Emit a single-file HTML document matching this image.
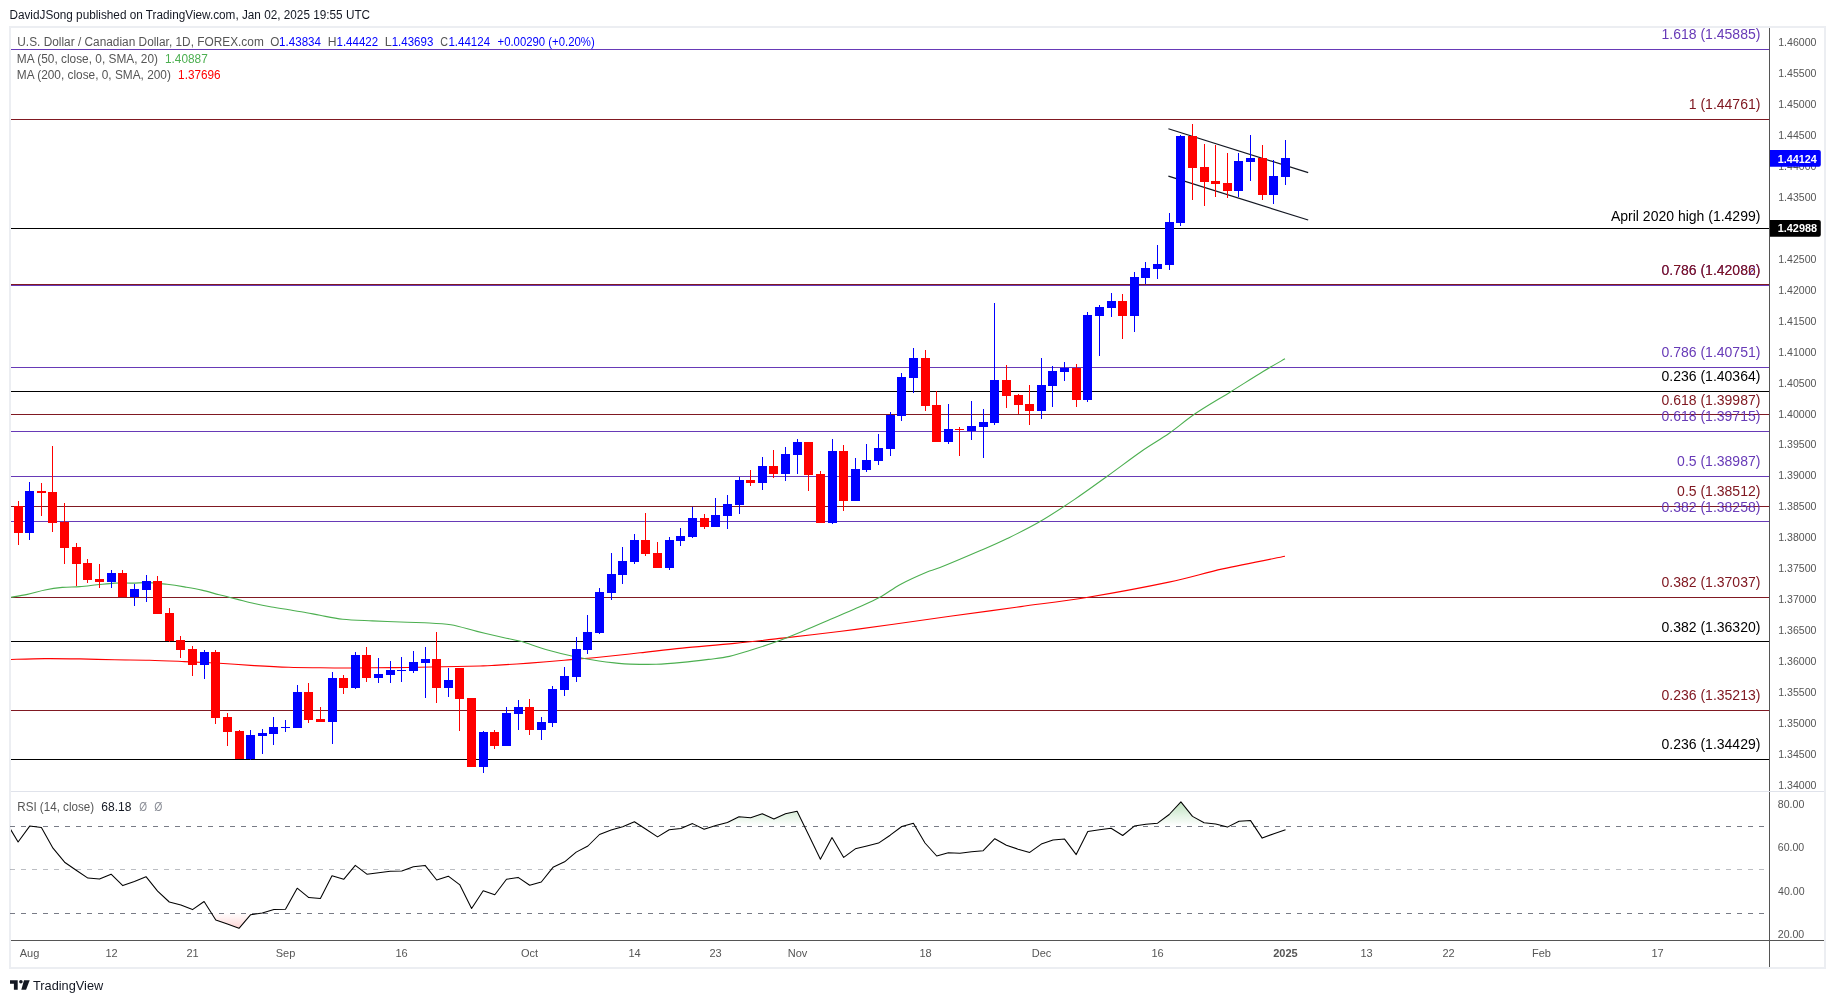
<!DOCTYPE html>
<html><head><meta charset="utf-8"><title>USDCAD chart</title><style>
html,body{margin:0;padding:0;background:#fff;}
body{width:1835px;height:1003px;overflow:hidden;position:relative;}
svg{position:absolute;left:0;top:0;display:block;will-change:transform;}
text{font-family:"Liberation Sans", Arial, sans-serif;}
</style></head><body>
<svg width="1835" height="1003" viewBox="0 0 1835 1003">
<defs>
<clipPath id="cpMain"><rect x="11" y="28" width="1758" height="763"/></clipPath>
<clipPath id="cpRsi"><rect x="11" y="792" width="1758" height="148"/></clipPath>
<linearGradient id="gOB" gradientUnits="userSpaceOnUse" x1="0" y1="825.80" x2="0" y2="760.55"><stop offset="0" stop-color="#4caf50" stop-opacity="0"/><stop offset="1" stop-color="#4caf50" stop-opacity="1"/></linearGradient>
<linearGradient id="gOS" gradientUnits="userSpaceOnUse" x1="0" y1="912.80" x2="0" y2="978.05"><stop offset="0" stop-color="#ff5252" stop-opacity="0"/><stop offset="1" stop-color="#ff5252" stop-opacity="1"/></linearGradient>
<clipPath id="cpOB"><rect x="11" y="792" width="1758" height="33.80"/></clipPath>
<clipPath id="cpOS"><rect x="11" y="912.80" width="1758" height="27.20"/></clipPath>
</defs>
<text x="9.44" y="19.10" font-size="12.50" fill="#131722" textLength="360.62" lengthAdjust="spacingAndGlyphs">DavidJSong published on TradingView.com, Jan 02, 2025 19:55 UTC</text>
<rect x="9" y="26" width="1817" height="2" fill="#eceef2"/>
<rect x="9" y="967" width="1817" height="2" fill="#eceef2"/>
<rect x="9" y="26" width="2" height="943" fill="#eceef2"/>
<rect x="1824" y="26" width="2" height="943" fill="#eceef2"/>
<g clip-path="url(#cpMain)" shape-rendering="crispEdges">
<rect x="11" y="49" width="1758" height="1" fill="#673ab7"/>
<rect x="11" y="285" width="1758" height="1" fill="#673ab7"/>
<rect x="11" y="367" width="1758" height="1" fill="#673ab7"/>
<rect x="11" y="431" width="1758" height="1" fill="#673ab7"/>
<rect x="11" y="476" width="1758" height="1" fill="#673ab7"/>
<rect x="11" y="521" width="1758" height="1" fill="#673ab7"/>
<rect x="11" y="119" width="1758" height="1" fill="#801922"/>
<rect x="11" y="284" width="1758" height="1" fill="#801922"/>
<rect x="11" y="414" width="1758" height="1" fill="#801922"/>
<rect x="11" y="506" width="1758" height="1" fill="#801922"/>
<rect x="11" y="597" width="1758" height="1" fill="#801922"/>
<rect x="11" y="710" width="1758" height="1" fill="#801922"/>
<rect x="11" y="228" width="1758" height="1" fill="#000000"/>
<rect x="11" y="391" width="1758" height="1" fill="#000000"/>
<rect x="11" y="641" width="1758" height="1" fill="#000000"/>
<rect x="11" y="759" width="1758" height="1" fill="#000000"/>
</g>
<g clip-path="url(#cpMain)" fill="none" stroke-linejoin="round">
<path d="M10.00,659.50 C15.82,659.35 33.27,658.70 44.90,658.60 C56.53,658.50 68.18,658.70 79.80,658.90 C91.42,659.10 102.98,659.58 114.60,659.80 C126.22,660.02 137.87,659.90 149.50,660.20 C161.13,660.50 172.77,661.08 184.40,661.60 C196.03,662.12 207.67,662.63 219.30,663.30 C230.93,663.97 242.58,664.93 254.20,665.60 C265.82,666.27 278.03,666.93 289.00,667.30 C299.97,667.67 310.50,667.68 320.00,667.80 C329.50,667.92 337.28,668.02 346.00,668.00 C354.72,667.98 362.10,667.78 372.30,667.70 C382.50,667.62 395.58,667.65 407.20,667.50 C418.82,667.35 429.87,667.05 442.00,666.80 C454.13,666.55 471.27,666.23 480.00,666.00 C488.73,665.77 486.18,665.88 494.40,665.40 C502.62,664.92 517.67,663.97 529.30,663.10 C540.93,662.23 552.58,661.18 564.20,660.20 C575.82,659.22 586.37,658.43 599.00,657.20 C611.63,655.97 626.12,654.32 640.00,652.80 C653.88,651.28 666.53,649.67 682.30,648.10 C698.07,646.53 717.15,645.15 734.60,643.40 C752.05,641.65 769.55,639.58 787.00,637.60 C804.45,635.62 821.87,633.68 839.30,631.50 C856.73,629.32 873.15,627.03 891.60,624.50 C910.05,621.97 928.47,619.28 950.00,616.30 C971.53,613.32 997.78,609.78 1020.80,606.60 C1043.82,603.42 1063.42,601.28 1088.10,597.20 C1112.78,593.12 1146.47,586.82 1168.90,582.10 C1191.33,577.38 1203.35,573.20 1222.70,568.90 C1242.05,564.60 1274.62,558.40 1285.00,556.30" stroke="#ff0000" stroke-width="1.1"/>
<path d="M10.00,597.40 C12.90,596.90 21.58,595.63 27.40,594.40 C33.22,593.17 39.08,591.17 44.90,590.00 C50.72,588.83 56.48,587.97 62.30,587.40 C68.12,586.83 73.98,587.03 79.80,586.60 C85.62,586.17 91.40,585.38 97.20,584.80 C103.00,584.22 108.78,583.38 114.60,583.10 C120.42,582.82 126.28,583.18 132.10,583.10 C137.92,583.02 143.68,582.40 149.50,582.60 C155.32,582.80 161.18,583.58 167.00,584.30 C172.82,585.02 178.60,585.93 184.40,586.90 C190.20,587.87 195.98,588.78 201.80,590.10 C207.62,591.42 213.48,593.30 219.30,594.80 C225.12,596.30 230.88,597.65 236.70,599.10 C242.52,600.55 248.38,602.18 254.20,603.50 C260.02,604.82 265.80,605.95 271.60,607.00 C277.40,608.05 283.18,608.85 289.00,609.80 C294.82,610.75 301.33,611.78 306.50,612.70 C311.67,613.62 313.97,614.22 320.00,615.30 C326.03,616.38 333.98,618.27 342.70,619.20 C351.42,620.13 361.55,620.38 372.30,620.90 C383.05,621.42 398.48,622.00 407.20,622.30 C415.92,622.60 417.33,622.28 424.60,622.70 C431.87,623.12 442.07,623.35 450.80,624.80 C459.53,626.25 468.28,629.28 477.00,631.40 C485.72,633.52 495.83,635.85 503.10,637.50 C510.37,639.15 513.33,639.27 520.60,641.30 C527.87,643.33 537.98,647.22 546.70,649.70 C555.42,652.18 564.18,654.32 572.90,656.20 C581.62,658.08 591.73,659.85 599.00,661.00 C606.27,662.15 611.33,662.58 616.50,663.10 C621.67,663.62 623.38,663.90 630.00,664.10 C636.62,664.30 647.48,664.58 656.20,664.30 C664.92,664.02 673.58,663.22 682.30,662.40 C691.02,661.58 700.65,660.40 708.50,659.40 C716.35,658.40 722.13,658.00 729.40,656.40 C736.67,654.80 743.97,652.35 752.10,649.80 C760.23,647.25 769.48,644.30 778.20,641.10 C786.92,637.90 795.67,634.23 804.40,630.60 C813.13,626.97 821.88,623.07 830.60,619.30 C839.32,615.53 848.57,611.63 856.70,608.00 C864.83,604.37 872.13,601.43 879.40,597.50 C886.67,593.57 892.45,588.62 900.30,584.40 C908.15,580.18 919.88,575.00 926.50,572.20 C933.12,569.40 931.02,571.20 940.00,567.60 C948.98,564.00 969.18,555.45 980.40,550.60 C991.62,545.75 997.43,543.30 1007.30,538.50 C1017.17,533.70 1028.38,528.32 1039.60,521.80 C1050.82,515.28 1063.38,506.95 1074.60,499.40 C1085.82,491.85 1095.68,484.57 1106.90,476.50 C1118.12,468.43 1131.57,458.17 1141.90,451.00 C1152.23,443.83 1159.92,439.78 1168.90,433.50 C1177.88,427.22 1185.48,420.27 1195.80,413.30 C1206.12,406.33 1219.58,398.67 1230.80,391.70 C1242.02,384.73 1254.07,376.98 1263.10,371.50 C1272.13,366.02 1281.35,360.92 1285.00,358.80" stroke="#4caf50" stroke-width="1.1"/>
</g>
<g clip-path="url(#cpMain)" stroke="#131722" stroke-width="1.2" fill="none">
<line x1="1168.4" y1="128.8" x2="1308.2" y2="172.6"/>
<line x1="1168.4" y1="176.1" x2="1308.2" y2="220.0"/>
</g>
<g clip-path="url(#cpMain)" shape-rendering="crispEdges">
<rect x="18" y="501" width="1" height="44" fill="#ff0000"/>
<rect x="14" y="506" width="9" height="27" fill="#ff0000"/>
<rect x="29" y="482" width="1" height="58" fill="#0000ff"/>
<rect x="25" y="491" width="9" height="42" fill="#0000ff"/>
<rect x="41" y="483" width="1" height="33" fill="#ff0000"/>
<rect x="37" y="491" width="9" height="2" fill="#ff0000"/>
<rect x="52" y="446" width="1" height="86" fill="#ff0000"/>
<rect x="48" y="492" width="9" height="31" fill="#ff0000"/>
<rect x="64" y="503" width="1" height="61" fill="#ff0000"/>
<rect x="60" y="522" width="9" height="26" fill="#ff0000"/>
<rect x="76" y="543" width="1" height="43" fill="#ff0000"/>
<rect x="72" y="547" width="9" height="17" fill="#ff0000"/>
<rect x="87" y="559" width="1" height="24" fill="#ff0000"/>
<rect x="83" y="563" width="9" height="17" fill="#ff0000"/>
<rect x="99" y="564" width="1" height="24" fill="#ff0000"/>
<rect x="95" y="579" width="9" height="3" fill="#ff0000"/>
<rect x="111" y="570" width="1" height="18" fill="#0000ff"/>
<rect x="107" y="573" width="9" height="9" fill="#0000ff"/>
<rect x="122" y="570" width="1" height="27" fill="#ff0000"/>
<rect x="118" y="573" width="9" height="24" fill="#ff0000"/>
<rect x="134" y="584" width="1" height="22" fill="#0000ff"/>
<rect x="130" y="589" width="9" height="8" fill="#0000ff"/>
<rect x="146" y="575" width="1" height="27" fill="#0000ff"/>
<rect x="142" y="581" width="9" height="9" fill="#0000ff"/>
<rect x="157" y="576" width="1" height="38" fill="#ff0000"/>
<rect x="153" y="581" width="9" height="33" fill="#ff0000"/>
<rect x="169" y="608" width="1" height="34" fill="#ff0000"/>
<rect x="165" y="613" width="9" height="28" fill="#ff0000"/>
<rect x="180" y="636" width="1" height="22" fill="#ff0000"/>
<rect x="176" y="640" width="9" height="10" fill="#ff0000"/>
<rect x="192" y="646" width="1" height="30" fill="#ff0000"/>
<rect x="188" y="649" width="9" height="16" fill="#ff0000"/>
<rect x="204" y="650" width="1" height="29" fill="#0000ff"/>
<rect x="200" y="652" width="9" height="13" fill="#0000ff"/>
<rect x="215" y="650" width="1" height="74" fill="#ff0000"/>
<rect x="211" y="652" width="9" height="66" fill="#ff0000"/>
<rect x="227" y="713" width="1" height="33" fill="#ff0000"/>
<rect x="223" y="717" width="9" height="15" fill="#ff0000"/>
<rect x="239" y="730" width="1" height="29" fill="#ff0000"/>
<rect x="235" y="731" width="9" height="28" fill="#ff0000"/>
<rect x="250" y="730" width="1" height="30" fill="#0000ff"/>
<rect x="246" y="735" width="9" height="24" fill="#0000ff"/>
<rect x="262" y="729" width="1" height="25" fill="#0000ff"/>
<rect x="258" y="733" width="9" height="3" fill="#0000ff"/>
<rect x="273" y="717" width="1" height="28" fill="#0000ff"/>
<rect x="269" y="727" width="9" height="7" fill="#0000ff"/>
<rect x="285" y="720" width="1" height="12" fill="#0000ff"/>
<rect x="281" y="727" width="9" height="1" fill="#0000ff"/>
<rect x="297" y="685" width="1" height="43" fill="#0000ff"/>
<rect x="293" y="692" width="9" height="36" fill="#0000ff"/>
<rect x="308" y="683" width="1" height="40" fill="#ff0000"/>
<rect x="304" y="692" width="9" height="28" fill="#ff0000"/>
<rect x="320" y="707" width="1" height="15" fill="#ff0000"/>
<rect x="316" y="719" width="9" height="3" fill="#ff0000"/>
<rect x="332" y="672" width="1" height="72" fill="#0000ff"/>
<rect x="328" y="678" width="9" height="44" fill="#0000ff"/>
<rect x="343" y="675" width="1" height="19" fill="#ff0000"/>
<rect x="339" y="678" width="9" height="10" fill="#ff0000"/>
<rect x="355" y="652" width="1" height="37" fill="#0000ff"/>
<rect x="351" y="655" width="9" height="33" fill="#0000ff"/>
<rect x="366" y="647" width="1" height="35" fill="#ff0000"/>
<rect x="362" y="655" width="9" height="23" fill="#ff0000"/>
<rect x="378" y="658" width="1" height="25" fill="#0000ff"/>
<rect x="374" y="674" width="9" height="4" fill="#0000ff"/>
<rect x="390" y="661" width="1" height="22" fill="#0000ff"/>
<rect x="386" y="670" width="9" height="5" fill="#0000ff"/>
<rect x="401" y="657" width="1" height="25" fill="#0000ff"/>
<rect x="397" y="670" width="9" height="1" fill="#0000ff"/>
<rect x="413" y="651" width="1" height="22" fill="#0000ff"/>
<rect x="409" y="662" width="9" height="9" fill="#0000ff"/>
<rect x="425" y="647" width="1" height="51" fill="#0000ff"/>
<rect x="421" y="659" width="9" height="4" fill="#0000ff"/>
<rect x="436" y="632" width="1" height="71" fill="#ff0000"/>
<rect x="432" y="659" width="9" height="29" fill="#ff0000"/>
<rect x="448" y="668" width="1" height="29" fill="#0000ff"/>
<rect x="444" y="680" width="9" height="8" fill="#0000ff"/>
<rect x="459" y="668" width="1" height="63" fill="#ff0000"/>
<rect x="455" y="668" width="9" height="31" fill="#ff0000"/>
<rect x="471" y="698" width="1" height="69" fill="#ff0000"/>
<rect x="467" y="698" width="9" height="69" fill="#ff0000"/>
<rect x="483" y="731" width="1" height="42" fill="#0000ff"/>
<rect x="479" y="732" width="9" height="35" fill="#0000ff"/>
<rect x="494" y="730" width="1" height="19" fill="#ff0000"/>
<rect x="490" y="732" width="9" height="14" fill="#ff0000"/>
<rect x="506" y="707" width="1" height="39" fill="#0000ff"/>
<rect x="502" y="713" width="9" height="33" fill="#0000ff"/>
<rect x="518" y="700" width="1" height="30" fill="#0000ff"/>
<rect x="514" y="707" width="9" height="7" fill="#0000ff"/>
<rect x="529" y="699" width="1" height="36" fill="#ff0000"/>
<rect x="525" y="707" width="9" height="23" fill="#ff0000"/>
<rect x="541" y="717" width="1" height="23" fill="#0000ff"/>
<rect x="537" y="722" width="9" height="8" fill="#0000ff"/>
<rect x="552" y="686" width="1" height="41" fill="#0000ff"/>
<rect x="548" y="689" width="9" height="34" fill="#0000ff"/>
<rect x="564" y="667" width="1" height="29" fill="#0000ff"/>
<rect x="560" y="676" width="9" height="14" fill="#0000ff"/>
<rect x="576" y="637" width="1" height="45" fill="#0000ff"/>
<rect x="572" y="649" width="9" height="28" fill="#0000ff"/>
<rect x="587" y="615" width="1" height="39" fill="#0000ff"/>
<rect x="583" y="632" width="9" height="18" fill="#0000ff"/>
<rect x="599" y="588" width="1" height="46" fill="#0000ff"/>
<rect x="595" y="592" width="9" height="41" fill="#0000ff"/>
<rect x="611" y="553" width="1" height="47" fill="#0000ff"/>
<rect x="607" y="574" width="9" height="19" fill="#0000ff"/>
<rect x="622" y="547" width="1" height="37" fill="#0000ff"/>
<rect x="618" y="561" width="9" height="14" fill="#0000ff"/>
<rect x="634" y="534" width="1" height="30" fill="#0000ff"/>
<rect x="630" y="540" width="9" height="22" fill="#0000ff"/>
<rect x="645" y="513" width="1" height="43" fill="#ff0000"/>
<rect x="641" y="540" width="9" height="14" fill="#ff0000"/>
<rect x="657" y="542" width="1" height="26" fill="#ff0000"/>
<rect x="653" y="553" width="9" height="15" fill="#ff0000"/>
<rect x="669" y="537" width="1" height="33" fill="#0000ff"/>
<rect x="665" y="540" width="9" height="28" fill="#0000ff"/>
<rect x="680" y="528" width="1" height="18" fill="#0000ff"/>
<rect x="676" y="536" width="9" height="5" fill="#0000ff"/>
<rect x="692" y="507" width="1" height="31" fill="#0000ff"/>
<rect x="688" y="518" width="9" height="19" fill="#0000ff"/>
<rect x="704" y="514" width="1" height="15" fill="#ff0000"/>
<rect x="700" y="518" width="9" height="9" fill="#ff0000"/>
<rect x="715" y="498" width="1" height="29" fill="#0000ff"/>
<rect x="711" y="515" width="9" height="12" fill="#0000ff"/>
<rect x="727" y="495" width="1" height="34" fill="#0000ff"/>
<rect x="723" y="504" width="9" height="12" fill="#0000ff"/>
<rect x="739" y="477" width="1" height="37" fill="#0000ff"/>
<rect x="735" y="480" width="9" height="25" fill="#0000ff"/>
<rect x="750" y="470" width="1" height="16" fill="#ff0000"/>
<rect x="746" y="480" width="9" height="3" fill="#ff0000"/>
<rect x="762" y="457" width="1" height="33" fill="#0000ff"/>
<rect x="758" y="466" width="9" height="17" fill="#0000ff"/>
<rect x="773" y="450" width="1" height="28" fill="#ff0000"/>
<rect x="769" y="466" width="9" height="8" fill="#ff0000"/>
<rect x="785" y="447" width="1" height="34" fill="#0000ff"/>
<rect x="781" y="454" width="9" height="20" fill="#0000ff"/>
<rect x="797" y="439" width="1" height="35" fill="#0000ff"/>
<rect x="793" y="442" width="9" height="13" fill="#0000ff"/>
<rect x="808" y="442" width="1" height="49" fill="#ff0000"/>
<rect x="804" y="442" width="9" height="33" fill="#ff0000"/>
<rect x="820" y="471" width="1" height="52" fill="#ff0000"/>
<rect x="816" y="474" width="9" height="49" fill="#ff0000"/>
<rect x="832" y="439" width="1" height="85" fill="#0000ff"/>
<rect x="828" y="451" width="9" height="72" fill="#0000ff"/>
<rect x="843" y="445" width="1" height="66" fill="#ff0000"/>
<rect x="839" y="451" width="9" height="50" fill="#ff0000"/>
<rect x="855" y="458" width="1" height="43" fill="#0000ff"/>
<rect x="851" y="469" width="9" height="32" fill="#0000ff"/>
<rect x="866" y="444" width="1" height="28" fill="#0000ff"/>
<rect x="862" y="460" width="9" height="10" fill="#0000ff"/>
<rect x="878" y="434" width="1" height="31" fill="#0000ff"/>
<rect x="874" y="448" width="9" height="13" fill="#0000ff"/>
<rect x="890" y="412" width="1" height="44" fill="#0000ff"/>
<rect x="886" y="415" width="9" height="34" fill="#0000ff"/>
<rect x="901" y="373" width="1" height="48" fill="#0000ff"/>
<rect x="897" y="377" width="9" height="39" fill="#0000ff"/>
<rect x="913" y="348" width="1" height="45" fill="#0000ff"/>
<rect x="909" y="358" width="9" height="20" fill="#0000ff"/>
<rect x="925" y="350" width="1" height="61" fill="#ff0000"/>
<rect x="921" y="358" width="9" height="48" fill="#ff0000"/>
<rect x="936" y="391" width="1" height="51" fill="#ff0000"/>
<rect x="932" y="405" width="9" height="37" fill="#ff0000"/>
<rect x="948" y="404" width="1" height="40" fill="#0000ff"/>
<rect x="944" y="429" width="9" height="13" fill="#0000ff"/>
<rect x="959" y="427" width="1" height="29" fill="#ff0000"/>
<rect x="955" y="429" width="9" height="1" fill="#ff0000"/>
<rect x="971" y="401" width="1" height="39" fill="#0000ff"/>
<rect x="967" y="426" width="9" height="5" fill="#0000ff"/>
<rect x="983" y="409" width="1" height="49" fill="#0000ff"/>
<rect x="979" y="422" width="9" height="5" fill="#0000ff"/>
<rect x="994" y="303" width="1" height="122" fill="#0000ff"/>
<rect x="990" y="380" width="9" height="43" fill="#0000ff"/>
<rect x="1006" y="365" width="1" height="43" fill="#ff0000"/>
<rect x="1002" y="380" width="9" height="16" fill="#ff0000"/>
<rect x="1018" y="394" width="1" height="20" fill="#ff0000"/>
<rect x="1014" y="395" width="9" height="10" fill="#ff0000"/>
<rect x="1029" y="385" width="1" height="40" fill="#ff0000"/>
<rect x="1025" y="404" width="9" height="7" fill="#ff0000"/>
<rect x="1041" y="358" width="1" height="61" fill="#0000ff"/>
<rect x="1037" y="385" width="9" height="26" fill="#0000ff"/>
<rect x="1052" y="366" width="1" height="41" fill="#0000ff"/>
<rect x="1048" y="371" width="9" height="15" fill="#0000ff"/>
<rect x="1064" y="362" width="1" height="19" fill="#0000ff"/>
<rect x="1060" y="368" width="9" height="4" fill="#0000ff"/>
<rect x="1076" y="364" width="1" height="43" fill="#ff0000"/>
<rect x="1072" y="368" width="9" height="32" fill="#ff0000"/>
<rect x="1087" y="312" width="1" height="90" fill="#0000ff"/>
<rect x="1083" y="315" width="9" height="85" fill="#0000ff"/>
<rect x="1099" y="305" width="1" height="51" fill="#0000ff"/>
<rect x="1095" y="307" width="9" height="9" fill="#0000ff"/>
<rect x="1111" y="293" width="1" height="24" fill="#0000ff"/>
<rect x="1107" y="301" width="9" height="7" fill="#0000ff"/>
<rect x="1122" y="294" width="1" height="45" fill="#ff0000"/>
<rect x="1118" y="301" width="9" height="15" fill="#ff0000"/>
<rect x="1134" y="272" width="1" height="60" fill="#0000ff"/>
<rect x="1130" y="277" width="9" height="39" fill="#0000ff"/>
<rect x="1145" y="262" width="1" height="22" fill="#0000ff"/>
<rect x="1141" y="268" width="9" height="10" fill="#0000ff"/>
<rect x="1157" y="245" width="1" height="34" fill="#0000ff"/>
<rect x="1153" y="264" width="9" height="5" fill="#0000ff"/>
<rect x="1169" y="213" width="1" height="57" fill="#0000ff"/>
<rect x="1165" y="222" width="9" height="43" fill="#0000ff"/>
<rect x="1180" y="135" width="1" height="91" fill="#0000ff"/>
<rect x="1176" y="136" width="9" height="87" fill="#0000ff"/>
<rect x="1192" y="124" width="1" height="76" fill="#ff0000"/>
<rect x="1188" y="136" width="9" height="32" fill="#ff0000"/>
<rect x="1204" y="144" width="1" height="62" fill="#ff0000"/>
<rect x="1200" y="167" width="9" height="15" fill="#ff0000"/>
<rect x="1215" y="145" width="1" height="52" fill="#ff0000"/>
<rect x="1211" y="181" width="9" height="3" fill="#ff0000"/>
<rect x="1227" y="153" width="1" height="45" fill="#ff0000"/>
<rect x="1223" y="183" width="9" height="8" fill="#ff0000"/>
<rect x="1238" y="153" width="1" height="44" fill="#0000ff"/>
<rect x="1234" y="161" width="9" height="30" fill="#0000ff"/>
<rect x="1250" y="135" width="1" height="46" fill="#0000ff"/>
<rect x="1246" y="158" width="9" height="4" fill="#0000ff"/>
<rect x="1262" y="145" width="1" height="55" fill="#ff0000"/>
<rect x="1258" y="158" width="9" height="37" fill="#ff0000"/>
<rect x="1273" y="160" width="1" height="44" fill="#0000ff"/>
<rect x="1269" y="176" width="9" height="19" fill="#0000ff"/>
<rect x="1285" y="140" width="1" height="45" fill="#0000ff"/>
<rect x="1281" y="158" width="9" height="19" fill="#0000ff"/>
</g>
<g font-size="14" text-anchor="end">
<text x="1760.4" y="39.3" fill="#673ab7">1.618 (1.45885)</text>
<text x="1760.4" y="108.9" fill="#801922">1 (1.44761)</text>
<text x="1760.4" y="274.8" fill="#673ab7">0.786 (1.42082)</text>
<text x="1760.4" y="274.6" fill="#801922">0.786 (1.42086)</text>
<text x="1760.4" y="357.2" fill="#673ab7">0.786 (1.40751)</text>
<text x="1760.4" y="381.2" fill="#000000">0.236 (1.40364)</text>
<text x="1760.4" y="404.5" fill="#801922">0.618 (1.39987)</text>
<text x="1760.4" y="421.4" fill="#673ab7">0.618 (1.39715)</text>
<text x="1760.4" y="466.4" fill="#673ab7">0.5 (1.38987)</text>
<text x="1760.4" y="495.9" fill="#801922">0.5 (1.38512)</text>
<text x="1760.4" y="511.6" fill="#673ab7">0.382 (1.38258)</text>
<text x="1760.4" y="587.2" fill="#801922">0.382 (1.37037)</text>
<text x="1760.4" y="631.6" fill="#000000">0.382 (1.36320)</text>
<text x="1760.4" y="700.1" fill="#801922">0.236 (1.35213)</text>
<text x="1760.4" y="748.7" fill="#000000">0.236 (1.34429)</text>
<text x="1760.4" y="220.6" fill="#000000">April 2020 high (1.4299)</text>
</g>
<text x="17.29" y="46.00" font-size="12.50" fill="#555" textLength="246.50" lengthAdjust="spacingAndGlyphs">U.S. Dollar / Canadian Dollar, 1D, FOREX.com</text>
<text x="270.15" y="46.00" font-size="12.50" fill="#555" textLength="9.11" lengthAdjust="spacingAndGlyphs">O</text>
<text x="279.12" y="46.00" font-size="12.50" fill="#0000ff" textLength="41.91" lengthAdjust="spacingAndGlyphs">1.43834</text>
<text x="327.70" y="46.00" font-size="12.50" fill="#555" textLength="8.78" lengthAdjust="spacingAndGlyphs">H</text>
<text x="336.53" y="46.00" font-size="12.50" fill="#0000ff" textLength="41.55" lengthAdjust="spacingAndGlyphs">1.44422</text>
<text x="384.76" y="46.00" font-size="12.50" fill="#555" textLength="7.06" lengthAdjust="spacingAndGlyphs">L</text>
<text x="391.73" y="46.00" font-size="12.50" fill="#0000ff" textLength="41.58" lengthAdjust="spacingAndGlyphs">1.43693</text>
<text x="440.35" y="46.00" font-size="12.50" fill="#555" textLength="7.76" lengthAdjust="spacingAndGlyphs">C</text>
<text x="448.43" y="46.00" font-size="12.50" fill="#0000ff" textLength="41.61" lengthAdjust="spacingAndGlyphs">1.44124</text>
<text x="497.54" y="46.00" font-size="12.50" fill="#0000ff" textLength="97.16" lengthAdjust="spacingAndGlyphs">+0.00290 (+0.20%)</text>
<text x="16.83" y="62.80" font-size="12.50" fill="#555" textLength="141.10" lengthAdjust="spacingAndGlyphs">MA (50, close, 0, SMA, 20)</text>
<text x="165.00" y="62.80" font-size="12.50" fill="#4caf50" textLength="42.79" lengthAdjust="spacingAndGlyphs">1.40887</text>
<text x="16.83" y="79.40" font-size="12.50" fill="#555" textLength="154.00" lengthAdjust="spacingAndGlyphs">MA (200, close, 0, SMA, 200)</text>
<text x="178.11" y="79.40" font-size="12.50" fill="#ff0000" textLength="42.40" lengthAdjust="spacingAndGlyphs">1.37696</text>
<g shape-rendering="crispEdges">
<line x1="10" y1="826.5" x2="1766" y2="826.5" stroke="#787b86" stroke-opacity="1" stroke-width="1" stroke-dasharray="5 6"/>
<line x1="10" y1="869.5" x2="1766" y2="869.5" stroke="#787b86" stroke-opacity="0.5" stroke-width="1" stroke-dasharray="5 6"/>
<line x1="10" y1="913.5" x2="1766" y2="913.5" stroke="#787b86" stroke-opacity="1" stroke-width="1" stroke-dasharray="5 6"/>
</g>
<g clip-path="url(#cpRsi)">
<g clip-path="url(#cpOB)"><polygon points="6.5,822.6 18.1,842.0 29.7,826.1 41.4,827.5 53.0,848.2 64.6,862.2 76.2,870.2 87.9,878.1 99.5,879.1 111.1,874.2 122.8,885.6 134.4,881.4 146.0,876.7 157.6,891.1 169.3,902.0 180.9,905.1 192.5,909.6 204.1,901.5 215.8,920.0 227.4,924.0 239.0,928.3 250.7,914.7 262.3,913.1 273.9,909.5 285.5,909.2 297.2,888.2 308.8,897.6 320.4,898.4 332.0,875.7 343.7,879.3 355.3,865.4 366.9,874.2 378.6,872.8 390.2,871.3 401.8,870.9 413.4,866.8 425.1,865.4 436.7,880.0 448.3,876.2 459.9,884.9 471.6,908.5 483.2,890.8 494.8,894.7 506.5,879.3 518.1,877.4 529.7,885.3 541.3,882.0 553.0,867.3 564.6,861.8 576.2,852.1 587.9,846.0 599.5,834.5 611.1,830.1 622.7,826.8 634.4,821.7 646.0,829.3 657.6,836.9 669.2,829.7 680.9,828.5 692.5,823.6 704.1,829.3 715.8,825.6 727.4,822.5 739.0,816.7 750.6,817.8 762.3,813.8 773.9,818.9 785.5,813.8 797.1,811.2 808.8,835.2 820.4,859.3 832.0,837.6 843.7,857.4 855.3,848.8 866.9,845.9 878.5,843.1 890.2,835.2 901.8,826.5 913.4,823.2 925.0,843.0 936.7,856.0 948.3,852.8 959.9,853.3 971.6,851.8 983.2,850.7 994.8,838.7 1006.4,845.2 1018.1,849.2 1029.7,852.4 1041.3,844.1 1053.0,840.1 1064.6,839.1 1076.2,854.6 1087.8,831.4 1099.5,829.7 1111.1,828.3 1122.7,835.5 1134.3,826.1 1146.0,824.3 1157.6,823.2 1169.2,814.5 1180.9,801.9 1192.5,816.4 1204.1,822.8 1215.7,823.9 1227.4,827.1 1239.0,821.3 1250.6,820.6 1262.2,838.1 1273.9,833.7 1285.5,829.7 1285.5,825.80 6.5,825.80" fill="url(#gOB)" stroke="none"/></g>
<g clip-path="url(#cpOS)"><polygon points="6.5,822.6 18.1,842.0 29.7,826.1 41.4,827.5 53.0,848.2 64.6,862.2 76.2,870.2 87.9,878.1 99.5,879.1 111.1,874.2 122.8,885.6 134.4,881.4 146.0,876.7 157.6,891.1 169.3,902.0 180.9,905.1 192.5,909.6 204.1,901.5 215.8,920.0 227.4,924.0 239.0,928.3 250.7,914.7 262.3,913.1 273.9,909.5 285.5,909.2 297.2,888.2 308.8,897.6 320.4,898.4 332.0,875.7 343.7,879.3 355.3,865.4 366.9,874.2 378.6,872.8 390.2,871.3 401.8,870.9 413.4,866.8 425.1,865.4 436.7,880.0 448.3,876.2 459.9,884.9 471.6,908.5 483.2,890.8 494.8,894.7 506.5,879.3 518.1,877.4 529.7,885.3 541.3,882.0 553.0,867.3 564.6,861.8 576.2,852.1 587.9,846.0 599.5,834.5 611.1,830.1 622.7,826.8 634.4,821.7 646.0,829.3 657.6,836.9 669.2,829.7 680.9,828.5 692.5,823.6 704.1,829.3 715.8,825.6 727.4,822.5 739.0,816.7 750.6,817.8 762.3,813.8 773.9,818.9 785.5,813.8 797.1,811.2 808.8,835.2 820.4,859.3 832.0,837.6 843.7,857.4 855.3,848.8 866.9,845.9 878.5,843.1 890.2,835.2 901.8,826.5 913.4,823.2 925.0,843.0 936.7,856.0 948.3,852.8 959.9,853.3 971.6,851.8 983.2,850.7 994.8,838.7 1006.4,845.2 1018.1,849.2 1029.7,852.4 1041.3,844.1 1053.0,840.1 1064.6,839.1 1076.2,854.6 1087.8,831.4 1099.5,829.7 1111.1,828.3 1122.7,835.5 1134.3,826.1 1146.0,824.3 1157.6,823.2 1169.2,814.5 1180.9,801.9 1192.5,816.4 1204.1,822.8 1215.7,823.9 1227.4,827.1 1239.0,821.3 1250.6,820.6 1262.2,838.1 1273.9,833.7 1285.5,829.7 1285.5,912.80 6.5,912.80" fill="url(#gOS)" stroke="none"/></g>
<polyline points="6.5,822.6 18.1,842.0 29.7,826.1 41.4,827.5 53.0,848.2 64.6,862.2 76.2,870.2 87.9,878.1 99.5,879.1 111.1,874.2 122.8,885.6 134.4,881.4 146.0,876.7 157.6,891.1 169.3,902.0 180.9,905.1 192.5,909.6 204.1,901.5 215.8,920.0 227.4,924.0 239.0,928.3 250.7,914.7 262.3,913.1 273.9,909.5 285.5,909.2 297.2,888.2 308.8,897.6 320.4,898.4 332.0,875.7 343.7,879.3 355.3,865.4 366.9,874.2 378.6,872.8 390.2,871.3 401.8,870.9 413.4,866.8 425.1,865.4 436.7,880.0 448.3,876.2 459.9,884.9 471.6,908.5 483.2,890.8 494.8,894.7 506.5,879.3 518.1,877.4 529.7,885.3 541.3,882.0 553.0,867.3 564.6,861.8 576.2,852.1 587.9,846.0 599.5,834.5 611.1,830.1 622.7,826.8 634.4,821.7 646.0,829.3 657.6,836.9 669.2,829.7 680.9,828.5 692.5,823.6 704.1,829.3 715.8,825.6 727.4,822.5 739.0,816.7 750.6,817.8 762.3,813.8 773.9,818.9 785.5,813.8 797.1,811.2 808.8,835.2 820.4,859.3 832.0,837.6 843.7,857.4 855.3,848.8 866.9,845.9 878.5,843.1 890.2,835.2 901.8,826.5 913.4,823.2 925.0,843.0 936.7,856.0 948.3,852.8 959.9,853.3 971.6,851.8 983.2,850.7 994.8,838.7 1006.4,845.2 1018.1,849.2 1029.7,852.4 1041.3,844.1 1053.0,840.1 1064.6,839.1 1076.2,854.6 1087.8,831.4 1099.5,829.7 1111.1,828.3 1122.7,835.5 1134.3,826.1 1146.0,824.3 1157.6,823.2 1169.2,814.5 1180.9,801.9 1192.5,816.4 1204.1,822.8 1215.7,823.9 1227.4,827.1 1239.0,821.3 1250.6,820.6 1262.2,838.1 1273.9,833.7 1285.5,829.7" fill="none" stroke="#000000" stroke-width="1.05" stroke-linejoin="round"/>
</g>
<text x="17.25" y="810.50" font-size="12.50" fill="#555" textLength="76.88" lengthAdjust="spacingAndGlyphs">RSI (14, close)</text>
<text x="101.29" y="810.50" font-size="12.50" fill="#131722" textLength="30.03" lengthAdjust="spacingAndGlyphs">68.18</text>
<text x="139.35" y="810.50" font-size="12.50" fill="#8a8d96" textLength="7.79" lengthAdjust="spacingAndGlyphs">Ø</text>
<text x="154.23" y="810.50" font-size="12.50" fill="#8a8d96" textLength="8.12" lengthAdjust="spacingAndGlyphs">Ø</text>
<g shape-rendering="crispEdges">
<rect x="11" y="940" width="1813" height="1" fill="#555"/>
<rect x="1769" y="28" width="1" height="939" fill="#555"/>
<rect x="11" y="791" width="1813" height="1" fill="#e0e3eb"/>
</g>
<text x="1778.20" y="46.00" font-size="11.20" fill="#555" textLength="38.26" lengthAdjust="spacingAndGlyphs">1.46000</text>
<text x="1778.20" y="76.96" font-size="11.20" fill="#555" textLength="38.26" lengthAdjust="spacingAndGlyphs">1.45500</text>
<text x="1778.20" y="107.92" font-size="11.20" fill="#555" textLength="38.26" lengthAdjust="spacingAndGlyphs">1.45000</text>
<text x="1778.20" y="138.88" font-size="11.20" fill="#555" textLength="38.26" lengthAdjust="spacingAndGlyphs">1.44500</text>
<text x="1778.20" y="169.84" font-size="11.20" fill="#555" textLength="38.26" lengthAdjust="spacingAndGlyphs">1.44000</text>
<text x="1778.20" y="200.80" font-size="11.20" fill="#555" textLength="38.26" lengthAdjust="spacingAndGlyphs">1.43500</text>
<text x="1778.20" y="231.76" font-size="11.20" fill="#555" textLength="38.26" lengthAdjust="spacingAndGlyphs">1.43000</text>
<text x="1778.20" y="262.72" font-size="11.20" fill="#555" textLength="38.26" lengthAdjust="spacingAndGlyphs">1.42500</text>
<text x="1778.20" y="293.68" font-size="11.20" fill="#555" textLength="38.26" lengthAdjust="spacingAndGlyphs">1.42000</text>
<text x="1778.20" y="324.64" font-size="11.20" fill="#555" textLength="38.26" lengthAdjust="spacingAndGlyphs">1.41500</text>
<text x="1778.20" y="355.60" font-size="11.20" fill="#555" textLength="38.26" lengthAdjust="spacingAndGlyphs">1.41000</text>
<text x="1778.20" y="386.56" font-size="11.20" fill="#555" textLength="38.26" lengthAdjust="spacingAndGlyphs">1.40500</text>
<text x="1778.20" y="417.52" font-size="11.20" fill="#555" textLength="38.26" lengthAdjust="spacingAndGlyphs">1.40000</text>
<text x="1778.20" y="448.48" font-size="11.20" fill="#555" textLength="38.26" lengthAdjust="spacingAndGlyphs">1.39500</text>
<text x="1778.20" y="479.44" font-size="11.20" fill="#555" textLength="38.26" lengthAdjust="spacingAndGlyphs">1.39000</text>
<text x="1778.20" y="510.40" font-size="11.20" fill="#555" textLength="38.26" lengthAdjust="spacingAndGlyphs">1.38500</text>
<text x="1778.20" y="541.36" font-size="11.20" fill="#555" textLength="38.26" lengthAdjust="spacingAndGlyphs">1.38000</text>
<text x="1778.20" y="572.32" font-size="11.20" fill="#555" textLength="38.26" lengthAdjust="spacingAndGlyphs">1.37500</text>
<text x="1778.20" y="603.28" font-size="11.20" fill="#555" textLength="38.26" lengthAdjust="spacingAndGlyphs">1.37000</text>
<text x="1778.20" y="634.24" font-size="11.20" fill="#555" textLength="38.26" lengthAdjust="spacingAndGlyphs">1.36500</text>
<text x="1778.20" y="665.20" font-size="11.20" fill="#555" textLength="38.26" lengthAdjust="spacingAndGlyphs">1.36000</text>
<text x="1778.20" y="696.16" font-size="11.20" fill="#555" textLength="38.26" lengthAdjust="spacingAndGlyphs">1.35500</text>
<text x="1778.20" y="727.12" font-size="11.20" fill="#555" textLength="38.26" lengthAdjust="spacingAndGlyphs">1.35000</text>
<text x="1778.20" y="758.08" font-size="11.20" fill="#555" textLength="38.26" lengthAdjust="spacingAndGlyphs">1.34500</text>
<text x="1778.20" y="789.04" font-size="11.20" fill="#555" textLength="38.26" lengthAdjust="spacingAndGlyphs">1.34000</text>
<text x="1777.84" y="807.95" font-size="11.20" fill="#555" textLength="26.49" lengthAdjust="spacingAndGlyphs">80.00</text>
<text x="1777.76" y="851.45" font-size="11.20" fill="#555" textLength="26.49" lengthAdjust="spacingAndGlyphs">60.00</text>
<text x="1778.06" y="894.95" font-size="11.20" fill="#555" textLength="26.49" lengthAdjust="spacingAndGlyphs">40.00</text>
<text x="1777.77" y="938.45" font-size="11.20" fill="#555" textLength="26.49" lengthAdjust="spacingAndGlyphs">20.00</text>
<path d="M1770,150 H1818.8 Q1820.8,150 1820.8,152 V164.7 Q1820.8,166.7 1818.8,166.7 H1770 Z" fill="#0000ff"/>
<text x="1777.72" y="162.80" font-size="11.20" fill="#fff" font-weight="bold" textLength="39.13" lengthAdjust="spacingAndGlyphs">1.44124</text>
<path d="M1770,220 H1818.8 Q1820.8,220 1820.8,222 V234.7 Q1820.8,236.7 1818.8,236.7 H1770 Z" fill="#000"/>
<text x="1777.71" y="232.30" font-size="11.20" fill="#fff" font-weight="bold" textLength="39.42" lengthAdjust="spacingAndGlyphs">1.42988</text>
<g font-size="11" fill="#555" text-anchor="middle">
<text x="29.5" y="957.2">Aug</text>
<text x="111.5" y="957.2">12</text>
<text x="192.5" y="957.2">21</text>
<text x="285.5" y="957.2">Sep</text>
<text x="401.5" y="957.2">16</text>
<text x="529.5" y="957.2">Oct</text>
<text x="634.5" y="957.2">14</text>
<text x="715.5" y="957.2">23</text>
<text x="797.5" y="957.2">Nov</text>
<text x="925.5" y="957.2">18</text>
<text x="1041.5" y="957.2">Dec</text>
<text x="1157.5" y="957.2">16</text>
<text x="1285.5" y="957.2" font-weight="bold">2025</text>
<text x="1366.5" y="957.2">13</text>
<text x="1448.5" y="957.2">22</text>
<text x="1541.5" y="957.2">Feb</text>
<text x="1657.5" y="957.2">17</text>
</g>
<g fill="#131722">
<path d="M10,980.2 H17.7 V989.8 H13.9 V983.8 H10 Z"/>
<circle cx="20.9" cy="981.8" r="1.8"/>
<path d="M24,980.2 H29.7 L26.1,989.8 H21.3 Z"/>
<text x="33" y="989.8" font-size="13" textLength="70.2" lengthAdjust="spacingAndGlyphs">TradingView</text>
</g>
</svg></body></html>
